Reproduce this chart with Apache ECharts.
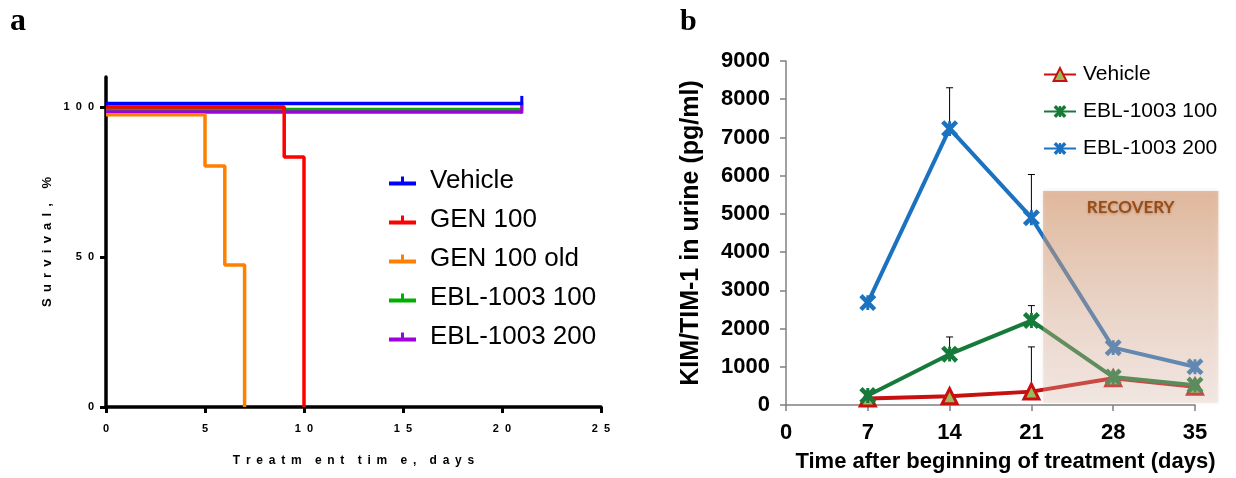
<!DOCTYPE html>
<html><head><meta charset="utf-8">
<script src="https://cdn.jsdelivr.net/npm/echarts@6/dist/echarts.min.js"></script>
<style>html,body{margin:0;padding:0;background:#fff}#c{width:1236px;height:478px}</style>
</head><body><div id="c"></div>
<script>
// ---------- Panel a: Kaplan-Meier survival ----------
const kmSeriesNames = ['Vehicle', 'GEN 100', 'GEN 100 old', 'EBL-1003 100', 'EBL-1003 200'];
const kmVehicleT = [0, 21];        const kmVehicleS = [101.2, 101.2];
const kmGen100T = [0, 9, 10];      const kmGen100S = [100, 83.3, 0];
const kmGen100OldT = [0, 5, 6, 7]; const kmGen100OldS = [97.4, 80.3, 47.3, 0];
const kmEbl100T = [0, 21];         const kmEbl100S = [99.2, 99.2];
const kmEbl200T = [0, 21];         const kmEbl200S = [98.3, 98.3];
const kmCensored = [true, false, false, true, true];
const kmXTicks = [0, 5, 10, 15, 20, 25];
const kmYTicks = [0, 50, 100];
const kmXTitleWords = ['Treatm', 'ent', 'tim', 'e,', 'days'];
const kmYTitleWords = ['Survival,', '%'];

// ---------- Panel b: KIM/TIM-1 ----------
const bDays = [7, 14, 21, 28, 35];
const bNames = ['Vehicle', 'EBL-1003 100', 'EBL-1003 200'];
const bVehicle = [170, 230, 350, 700, 480];
const bEbl100 = [250, 1330, 2210, 730, 520];
const bEbl200 = [2680, 7230, 4900, 1500, 1000];
const bVehicleSD = [0, 0, 1170, 0, 0];
const bEbl100SD = [0, 450, 390, 0, 0];
const bEbl200SD = [0, 1070, 1130, 0, 0];
const recoveryDays = [22, 37];
const recoveryLevels = [50, 5600];
const recoveryLabel = 'RECOVERY';

const SANS = 'Liberation Sans';
const LGAP = ' \u2009';
const WGAP = '    ';
const spaced = (s, sep) => s.split('').join(sep);
const spacedWords = words => words.map(w => spaced(w, LGAP)).join(WGAP);

const kmColors = ['#0000ff', '#ff0000', '#ff8000', '#00b000', '#a000dd'];
const kmZ = [6, 5, 7, 3, 4];
const kmT = [kmVehicleT, kmGen100T, kmGen100OldT, kmEbl100T, kmEbl200T];
const kmS = [kmVehicleS, kmGen100S, kmGen100OldS, kmEbl100S, kmEbl200S];
const censorPath = 'path://M0,0H3V10H0Z';

const kmSeries = kmSeriesNames.map((name, i) => ({
  name, type: 'line', xAxisIndex: 0, yAxisIndex: 0, step: 'end',
  z: kmZ[i], showSymbol: true, symbol: 'none',
  lineStyle: { color: kmColors[i], width: 3.5 },
  itemStyle: { color: kmColors[i] },
  data: kmT[i].map((t, j) => {
    const last = j === kmT[i].length - 1;
    if (last && kmCensored[i]) {
      return { value: [t, kmS[i][j]], symbol: censorPath, symbolSize: [3, 9], symbolOffset: [0, -3] };
    }
    return { value: [t, kmS[i][j]] };
  }),
  animation: false, silent: true
}));

const B_PREFIX = 'b:';
const xStarPath = 'path://M3,0 L8,5 L13,0 L16,3 L11,8 L16,13 L13,16 L8,11 L3,16 L0,13 L5,8 L0,3 Z M6.6,1 H9.4 V15 H6.6 Z';
const bColors = ['#c81010', '#167a3a', '#1b72c1'];
const bValues = [bVehicle, bEbl100, bEbl200];
const bSDs = [bVehicleSD, bEbl100SD, bEbl200SD];
const bSeries = bNames.map((name, i) => ({
  name: B_PREFIX + name, type: 'line', xAxisIndex: 1, yAxisIndex: 1, z: 3 + i,
  symbol: i === 0 ? 'triangle' : xStarPath,
  symbolSize: i === 0 ? 15 : 17,
  lineStyle: { color: bColors[i], width: 4 },
  itemStyle: i === 0 ? { color: '#9bbb59', borderColor: bColors[i], borderWidth: 3 }
                     : { color: bColors[i], borderWidth: 0 },
  data: bDays.map((d, j) => [d, bValues[i][j]]),
  animation: false
}));

const errData = [];
bSDs.forEach((sd, i) => sd.forEach((v, j) => {
  if (v > 0) errData.push([bDays[j], bValues[i][j], bValues[i][j] + v]);
}));

const errSeries = {
  type: 'custom', xAxisIndex: 1, yAxisIndex: 1, z: 1, silent: true, animation: false,
  data: errData,
  encode: { x: 0, y: [1, 2] },
  renderItem(params, api) {
    const p0 = api.coord([api.value(0), api.value(1)]);
    const p1 = api.coord([api.value(0), api.value(2)]);
    return { type: 'group', children: [
      { type: 'line', shape: { x1: p0[0], y1: p0[1], x2: p1[0], y2: p1[1] }, style: { stroke: '#000', lineWidth: 1 } },
      { type: 'line', shape: { x1: p1[0] - 3.5, y1: p1[1], x2: p1[0] + 3.5, y2: p1[1] }, style: { stroke: '#000', lineWidth: 1 } }
    ]};
  }
};

const recoverySeries = {
  type: 'custom', xAxisIndex: 1, yAxisIndex: 1, z: 10, silent: true, animation: false, clip: false,
  data: [[recoveryDays[0], recoveryLevels[0], recoveryDays[1], recoveryLevels[1]]],
  encode: { x: [0, 2], y: [1, 3] },
  renderItem(params, api) {
    const a = api.coord([api.value(0), api.value(3)]);
    const b = api.coord([api.value(2), api.value(1)]);
    return { type: 'group', children: [
      { type: 'rect', shape: { x: a[0], y: a[1], width: b[0] - a[0], height: b[1] - a[1] },
        style: { fill: { type: 'linear', x: 0, y: 0, x2: 0, y2: 1, colorStops: [
          { offset: 0, color: 'rgba(214,146,100,0.56)' },
          { offset: 1, color: 'rgba(228,196,184,0.28)' } ] },
          shadowBlur: 4, shadowColor: 'rgba(120,80,50,0.25)' } },
      { type: 'text', x: (a[0] + b[0]) / 2, y: a[1] + 17,
        style: { text: recoveryLabel, fill: '#9a4c16', font: 'bold 17px Lato', align: 'center', verticalAlign: 'middle',
                 textShadowBlur: 3, textShadowColor: 'rgba(90,50,20,0.35)', textShadowOffsetY: 1 } }
    ]};
  }
};

const option = {
  backgroundColor: '#fff',
  animation: false,
  graphic: [
    { type: 'text', x: 10, y: 22, style: { text: 'a', font: 'bold 32px Liberation Serif', fill: '#000', verticalAlign: 'middle' } },
    { type: 'text', x: 680, y: 22, style: { text: 'b', font: 'bold 30px Liberation Serif', fill: '#000', verticalAlign: 'middle' } }
  ],
  legend: [
    { data: kmSeriesNames, orient: 'vertical', left: 384, top: 163, itemGap: 13,
      itemWidth: 27, itemHeight: 9, icon: 'path://M0,5H27V9H0Z M12,0H15V5H12Z',
      textStyle: { fontFamily: SANS, fontSize: 26, color: '#000', padding: [0, 0, 0, 9] }, selectedMode: false },
    { data: bNames.map(n => B_PREFIX + n), orient: 'vertical', left: 1038, top: 59, itemGap: 16,
      itemWidth: 32, itemHeight: 16, formatter: n => n.slice(B_PREFIX.length),
      textStyle: { fontFamily: SANS, fontSize: 21, color: '#000', padding: [0, 0, 0, 2] }, selectedMode: false }
  ],
  grid: [
    { left: 106, right: 635, top: 77, bottom: 71 },
    { left: 786, right: 41, top: 61, bottom: 73 }
  ],
  xAxis: [
    { type: 'value', gridIndex: 0, min: 0, max: 25, interval: 5,
      name: spacedWords(kmXTitleWords),
      nameLocation: 'middle', nameGap: 48,
      nameTextStyle: { fontFamily: SANS, fontWeight: 'bold', fontSize: 12, color: '#000' },
      axisLine: { lineStyle: { color: '#000', width: 3.5 } },
      axisTick: { length: 6, lineStyle: { color: '#000', width: 3 }, customValues: kmXTicks },
      axisLabel: { margin: 16, fontFamily: SANS, fontWeight: 'bold', fontSize: 11, color: '#000',
                   customValues: kmXTicks, formatter: v => spaced(String(v), '  ') },
      splitLine: { show: false } },
    { type: 'value', gridIndex: 1, min: 0, max: 35, interval: 7,
      name: 'Time after beginning of treatment (days)', nameLocation: 'middle', nameGap: 46,
      nameTextStyle: { fontFamily: SANS, fontWeight: 'bold', fontSize: 22, color: '#000', padding: [0, 0, 0, 30] },
      axisLine: { lineStyle: { color: '#808080', width: 1.5 } },
      axisTick: { length: 6, lineStyle: { color: '#808080', width: 1.5 } },
      axisLabel: { margin: 17, fontFamily: SANS, fontWeight: 'bold', fontSize: 22, color: '#000' },
      splitLine: { show: false } }
  ],
  yAxis: [
    { type: 'value', gridIndex: 0, min: 0, max: 110, interval: 50,
      name: spacedWords(kmYTitleWords), nameLocation: 'middle', nameGap: 52, nameRotate: 90,
      nameTextStyle: { fontFamily: SANS, fontWeight: 'bold', fontSize: 13, color: '#000' },
      axisLine: { show: true, lineStyle: { color: '#000', width: 3.5 } },
      axisTick: { show: true, length: 6, lineStyle: { color: '#000', width: 3 }, customValues: kmYTicks },
      axisLabel: { margin: 12, fontFamily: SANS, fontWeight: 'bold', fontSize: 11, color: '#000',
                   customValues: kmYTicks, formatter: v => spaced(String(v), '  ') },
      splitLine: { show: false } },
    { type: 'value', gridIndex: 1, min: 0, max: 9000, interval: 1000,
      name: 'KIM/TIM-1 in urine (pg/ml)', nameLocation: 'middle', nameGap: 82, nameRotate: 90,
      nameTextStyle: { fontFamily: SANS, fontWeight: 'bold', fontSize: 25, color: '#000' },
      axisLine: { show: true, lineStyle: { color: '#808080', width: 1.5 } },
      axisTick: { show: true, length: 6, lineStyle: { color: '#808080', width: 1.5 } },
      axisLabel: { margin: 16, fontFamily: SANS, fontWeight: 'bold', fontSize: 22, color: '#000',
                   formatter: v => String(v) },
      splitLine: { show: false } }
  ],
  series: [...kmSeries, errSeries, ...bSeries, recoverySeries]
};

const chart = echarts.init(document.getElementById('c'), null, { renderer: 'canvas' });
chart.setOption(option);
</script></body></html>
